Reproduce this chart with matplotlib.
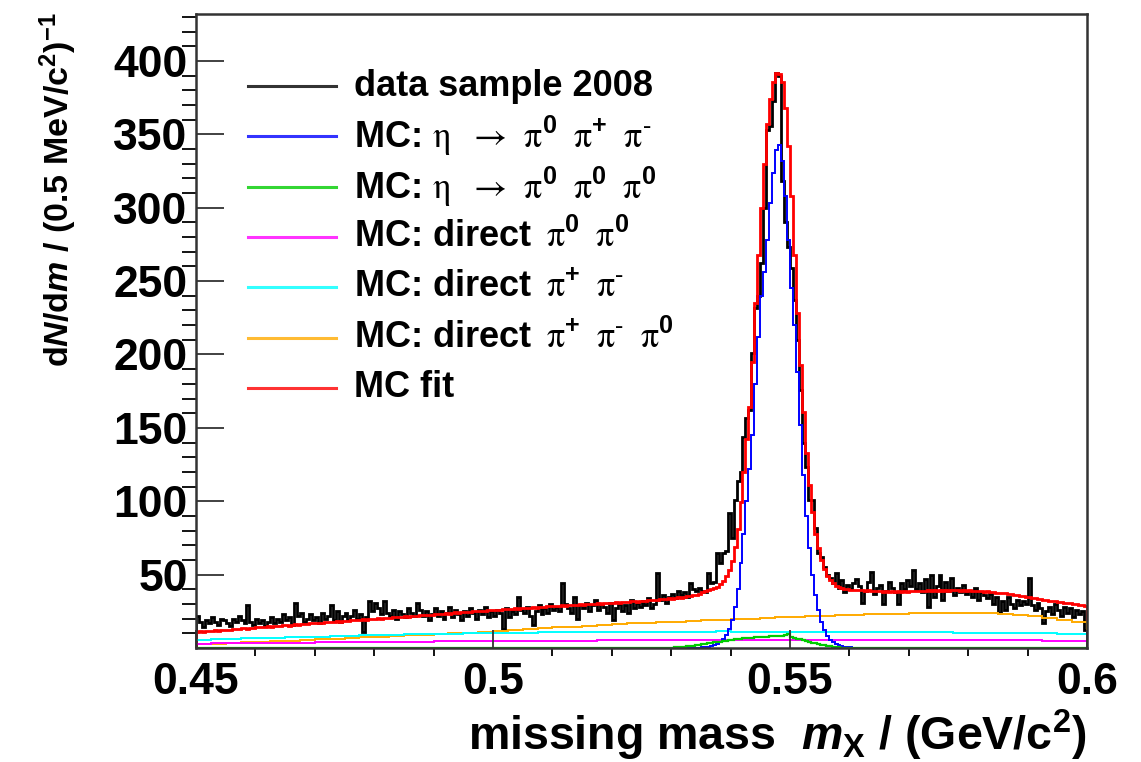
import numpy as np
import matplotlib
matplotlib.use("Agg")
import matplotlib.pyplot as plt

# missing mass histograms, 0.5 MeV bins from 0.45 to 0.60 GeV
m_lo, m_hi = 0.45, 0.60

data_2008 = [
    22, 18, 14, 19, 17, 21, 18, 16, 20, 19,
    17, 15, 20, 18, 22, 19, 17, 29, 18, 16,
    20, 17, 19, 15, 18, 21, 17, 20, 18, 23,
    19, 21, 16, 31, 22, 24, 18, 20, 23, 19,
    21, 17, 24, 20, 22, 29, 19, 25, 18, 22,
    24, 19, 22, 26, 20, 23, 11, 21, 32, 25,
    31, 27, 23, 32, 24, 22, 26, 20, 25, 23,
    21, 27, 24, 22, 31, 26, 22, 25, 19, 23,
    27, 22, 25, 20, 24, 28, 21, 26, 23, 19,
    25, 22, 27, 24, 20, 26, 23, 28, 21, 25,
    22, 26, 24, 13, 27, 21, 25, 23, 35, 26,
    24, 28, 22, 16, 25, 29, 23, 27, 24, 30,
    26, 28, 25, 44, 30, 27, 24, 35, 20, 29,
    27, 31, 25, 29, 33, 26, 30, 28, 24, 31,
    19, 27, 30, 25, 29, 24, 33, 27, 31, 28,
    32, 29, 34, 27, 30, 51, 33, 36, 31, 35,
    37, 34, 39, 36, 38, 35, 44, 40, 39, 41,
    39, 38, 51, 44, 45, 65, 58, 65, 66, 92,
    75, 101, 114, 120, 144, 157, 162, 201, 232, 240,
    262, 300, 353, 356, 373, 392, 390, 318, 290, 273,
    259, 237, 210, 176, 140, 123, 101, 101, 82, 65,
    62, 55, 50, 48, 44, 51, 41, 46, 38, 43,
    40, 44, 47, 42, 31, 39, 45, 52, 37, 41,
    43, 30, 39, 45, 41, 38, 30, 44, 40, 46,
    42, 53, 40, 44, 38, 47, 28, 50, 35, 42,
    50, 33, 45, 39, 48, 36, 41, 38, 43, 37,
    39, 35, 41, 33, 38, 36, 34, 37, 30, 35,
    24, 32, 26, 35, 30, 27, 33, 29, 32, 30,
    48, 29, 26, 31, 27, 17, 25, 28, 23, 30,
    26, 22, 28, 24, 27, 21, 26, 23, 25, 12,
]

mc_fit = [
    11.0, 11.3, 11.1, 11.6, 11.4, 11.9, 12.1, 11.8, 12.3, 12.4,
    12.6, 12.4, 12.9, 13.1, 12.8, 13.3, 13.5, 13.2, 13.8, 13.7,
    14.0, 14.3, 14.1, 14.5, 14.7, 14.4, 14.9, 15.2, 15.0, 15.4,
    15.6, 15.3, 15.8, 16.1, 15.9, 16.3, 16.5, 16.2, 16.8, 16.7,
    17.0, 17.3, 17.1, 17.5, 17.7, 17.4, 17.9, 18.2, 18.0, 18.4,
    18.6, 18.3, 18.8, 19.1, 18.9, 19.3, 19.5, 19.2, 19.8, 19.7,
    20.0, 20.3, 20.1, 20.5, 20.7, 20.4, 20.9, 21.2, 21.0, 21.4,
    21.6, 21.3, 21.8, 22.1, 21.9, 22.3, 22.5, 22.2, 22.8, 22.7,
    23.0, 23.3, 23.1, 23.5, 23.7, 23.4, 23.9, 24.2, 24.0, 24.4,
    24.6, 24.3, 24.8, 25.1, 24.9, 25.3, 25.5, 25.2, 25.8, 25.7,
    26.0, 26.2, 26.0, 26.4, 26.6, 26.3, 26.8, 27.0, 26.7, 27.2,
    27.3, 27.0, 27.5, 27.7, 27.4, 27.9, 28.1, 27.8, 28.3, 28.4,
    28.5, 28.3, 28.8, 29.0, 28.7, 29.2, 29.4, 29.1, 29.5, 29.7,
    29.6, 29.9, 30.1, 29.8, 30.3, 30.5, 30.2, 30.6, 30.8, 30.5,
    30.9, 31.1, 30.8, 31.3, 31.5, 31.2, 31.7, 31.9, 31.6, 32.1,
    32.3, 32.0, 32.5, 32.8, 32.5, 33.0, 33.3, 33.1, 33.6, 33.9,
    33.7, 34.2, 34.5, 34.3, 34.9, 35.3, 35.2, 35.8, 36.3, 36.5,
    38.0, 38.5, 39.2, 39.9, 40.8, 41.9, 43.4, 45.7, 49.0, 53.3,
    59.6, 68.9, 81.2, 99.5, 119.8, 142.1, 164.4, 195.0, 235.0, 268.0,
    300.0, 330.0, 357.0, 374.0, 386.0, 392.0, 391.0, 386.0, 368.0, 342.0,
    308.0, 268.0, 228.0, 193.0, 161.0, 133.0, 111.0, 93.0, 78.0, 68.0,
    60.0, 54.0, 49.0, 46.0, 44.0, 42.5, 41.5, 41.0, 40.5, 40.0,
    39.8, 39.5, 39.6, 39.2, 39.5, 38.9, 39.3, 38.7, 39.1, 38.6,
    38.9, 38.4, 38.8, 38.3, 38.7, 38.2, 38.6, 38.3, 38.7, 38.4,
    38.8, 38.5, 39.0, 38.6, 39.1, 38.7, 39.2, 38.8, 39.3, 38.9,
    39.4, 39.0, 39.5, 39.1, 39.6, 39.2, 39.5, 39.1, 39.4, 39.0,
    39.3, 38.9, 39.1, 38.7, 38.9, 38.4, 38.6, 38.1, 38.2, 37.7,
    37.8, 37.3, 37.3, 36.8, 36.8, 36.2, 36.2, 35.6, 35.5, 35.0,
    34.9, 34.3, 34.2, 33.6, 33.5, 33.0, 32.8, 32.3, 32.2, 31.7,
    31.6, 31.1, 31.0, 30.5, 30.4, 29.9, 29.8, 29.4, 29.3, 28.8,
]

# eta -> pi0 pi+ pi- : non-zero bins only, starting at bin 168 (0.534 GeV)
eta_3pi_first_bin = 168
eta_3pi = [
    0.1, 0.2, 0.4, 0.6, 1.0, 1.4, 2.0, 2.8, 4.0, 6.0,
    9.0, 13.0, 19.0, 28.0, 40.0, 58.0, 78.0, 100.0, 122.0, 145.0,
    180.0, 212.0, 240.0, 256.0, 278.0, 303.0, 324.0, 339.0, 343.0, 332.0,
    308.0, 278.0, 245.0, 220.0, 188.0, 152.0, 118.0, 90.0, 68.0, 50.0,
    36.0, 26.0, 18.0, 12.0, 8.0, 5.5, 4.0, 3.0, 2.0, 1.4,
    1.0, 0.6, 0.4, 0.2,
]

# eta -> 3 pi0 : non-zero bins only, starting at bin 160 (0.530 GeV)
eta_3pi0_first_bin = 160
eta_3pi0 = [
    0.3, 0.4, 0.6, 0.7, 1.0, 1.1, 1.5, 1.6, 2.0, 2.2,
    2.6, 2.8, 3.2, 3.4, 3.8, 4.0, 4.4, 4.7, 5.0, 5.3,
    5.6, 5.8, 6.1, 6.3, 6.6, 6.8, 7.0, 7.1, 7.3, 7.4,
    7.6, 7.7, 7.8, 7.9, 8.0, 8.1, 8.2, 8.0, 8.6, 9.4,
    7.2, 6.8, 6.3, 5.8, 5.3, 4.8, 4.2, 3.7, 3.2, 2.7,
    2.3, 1.9, 1.5, 1.2, 0.9, 0.7, 0.5, 0.3, 0.2, 0.15,
    0.1, 0.05,
]

# smooth direct-production backgrounds, per 0.5 MeV, listed in 2.5 MeV steps
direct_2pi0 = [
    3.0, 3.1, 3.2, 3.3, 3.4, 3.5, 3.6, 3.7, 3.8, 3.9,
    4.0, 4.1, 4.2, 4.3, 4.3, 4.4, 4.5, 4.6, 4.6, 4.7,
    4.8, 4.8, 4.9, 5.0, 5.0, 5.1, 5.1, 5.2, 5.2, 5.3,
    5.3, 5.3, 5.4, 5.4, 5.4, 5.4, 5.5, 5.5, 5.5, 5.5,
    5.5, 5.5, 5.5, 5.5, 5.5, 5.5, 5.4, 5.4, 5.4, 5.4,
    5.4, 5.3, 5.3, 5.3, 5.2, 5.2, 5.2, 5.1, 5.1, 5.0,
]
direct_pipi = [
    5.6, 5.9, 6.2, 6.5, 6.8, 7.0, 7.3, 7.6, 7.8, 8.1,
    8.3, 8.6, 8.8, 9.0, 9.2, 9.4, 9.6, 9.8, 9.9, 10.1,
    10.2, 10.4, 10.5, 10.6, 10.7, 10.8, 10.9, 11.0, 11.0, 11.1,
    11.1, 11.2, 11.2, 11.2, 11.2, 11.3, 11.2, 11.2, 11.2, 11.1,
    11.1, 11.1, 11.0, 11.0, 10.9, 10.9, 10.8, 10.8, 10.7, 10.6,
    10.6, 10.5, 10.4, 10.3, 10.2, 10.1, 10.0, 9.9, 9.7, 9.6,
]
direct_3pi = [
    2.6, 3.0, 3.4, 3.8, 4.2, 4.6, 5.1, 5.5, 5.9, 6.4,
    6.8, 7.3, 7.7, 8.2, 8.7, 9.1, 9.6, 10.0, 10.5, 11.0,
    11.6, 12.2, 12.8, 13.4, 14.0, 14.6, 15.2, 15.7, 16.2, 16.7,
    17.1, 17.6, 18.0, 18.5, 18.9, 19.3, 19.7, 20.1, 20.5, 20.9,
    21.2, 21.6, 21.9, 22.3, 22.6, 22.9, 23.1, 23.4, 23.6, 23.8,
    23.9, 24.0, 23.9, 23.7, 23.3, 22.7, 21.8, 20.6, 19.2, 17.6,
]

eta = r"\mathrm{\eta}"
pi0 = r"\mathrm{\pi}^{\mathbf{0}}"
pip = r"\mathrm{\pi}^{\mathbf{+}}"
pim = r"\mathrm{\pi}^{\text{-}}"
gap = r"\ \,"
legend_labels = [
    "data sample 2008",
    "MC: $" + eta + r"\ \,\rightarrow\ " + pi0 + gap + pip + gap + pim + "$",
    "MC: $" + eta + r"\ \,\rightarrow\ " + pi0 + gap + pi0 + gap + pi0 + "$",
    r"MC: direct $\," + pi0 + gap + pi0 + "$",
    r"MC: direct $\," + pip + gap + pim + "$",
    r"MC: direct $\," + pip + gap + pim + gap + pi0 + "$",
    "MC fit",
]
colors = ["black", "#0000ff", "#00cc00", "#ff00ff", "#00ffff", "#ffaa00", "#ff0000"]

plt.rcParams["font.family"] = ["Liberation Sans", "DejaVu Sans"]
plt.rcParams["font.weight"] = "bold"
plt.rcParams["mathtext.fontset"] = "custom"
plt.rcParams["mathtext.rm"] = "STIXGeneral:weight=normal:style=normal"
plt.rcParams["mathtext.it"] = "Liberation Sans:italic:bold"
plt.rcParams["mathtext.bf"] = "Liberation Sans:bold"

nbins = len(data_2008)
edges = np.linspace(m_lo, m_hi, nbins + 1)
coarse_edges = np.linspace(m_lo, m_hi, len(direct_3pi) + 1)

blue_full = np.zeros(nbins)
blue_full[eta_3pi_first_bin:eta_3pi_first_bin + len(eta_3pi)] = eta_3pi
green_full = np.zeros(nbins)
green_full[eta_3pi0_first_bin:eta_3pi0_first_bin + len(eta_3pi0)] = eta_3pi0

fig = plt.figure(figsize=(11.41, 7.62), dpi=100)
ax = fig.add_axes([196 / 1141, 1 - 648 / 762, 891 / 1141, 634 / 762])

ax.stairs(data_2008, edges, color=colors[0], lw=2.0)
ax.stairs(mc_fit, edges, color=colors[6], lw=2.0)
ax.stairs(direct_3pi, coarse_edges, color=colors[5], lw=1.4)
ax.stairs(direct_pipi, coarse_edges, color=colors[4], lw=1.4)
ax.stairs(direct_2pi0, coarse_edges, color=colors[3], lw=1.4)
ax.stairs(blue_full, edges, color=colors[1], lw=1.4)
ax.stairs(green_full, edges, color=colors[2], lw=1.6)

ax.set_xlim(m_lo, m_hi)
ax.set_ylim(0, 432)

ax.set_xticks([0.45, 0.5, 0.55, 0.6])
ax.set_xticklabels(["0.45", "0.5", "0.55", "0.6"])
ax.set_xticks(np.arange(0.46, 0.6, 0.01), minor=True)
ax.set_yticks(np.arange(50, 401, 50))
ax.set_yticks(np.arange(10, 431, 10), minor=True)

ax.tick_params(direction="in", top=False, right=False, labelsize=32,
               color="#333333", width=1.3)
ax.tick_params(axis="y", which="major", length=20, pad=6)
ax.tick_params(axis="y", which="minor", length=10, width=1.3)
ax.tick_params(axis="x", which="major", length=13, pad=10)
ax.tick_params(axis="x", which="minor", length=6, width=1.3)
for s in ax.spines.values():
    s.set_linewidth(1.8)
    s.set_color("#333333")

# legend drawn by hand, no frame
for k, (lab, c) in enumerate(zip(legend_labels, colors)):
    y = 1 - (86 + 50.3 * k) / 762
    fig.add_artist(plt.Line2D([248 / 1141, 336 / 1141], [y, y], color=c, lw=2.2,
                              alpha=0.8, transform=fig.transFigure))
    fig.text(354 / 1141, y, lab, fontsize=26, fontweight="bold", va="center")

fig.text(1087 / 1141, 1 - 735 / 762,
         r"missing mass  $\mathit{m}_{\mathbf{X}}$ / (GeV/c$^{\mathbf{2}}$)",
         fontsize=33.5, fontweight="bold", ha="right", va="center")
fig.text(58 / 1141, 1 - 12 / 762,
         r"d$\mathit{N}$/d$\mathit{m}$ / (0.5 MeV/c$^{\mathbf{2}}$)$^{\mathbf{-1}}$",
         fontsize=24.5, fontweight="bold", rotation=90, ha="center", va="top")

fig.savefig("out.png", dpi=100)
